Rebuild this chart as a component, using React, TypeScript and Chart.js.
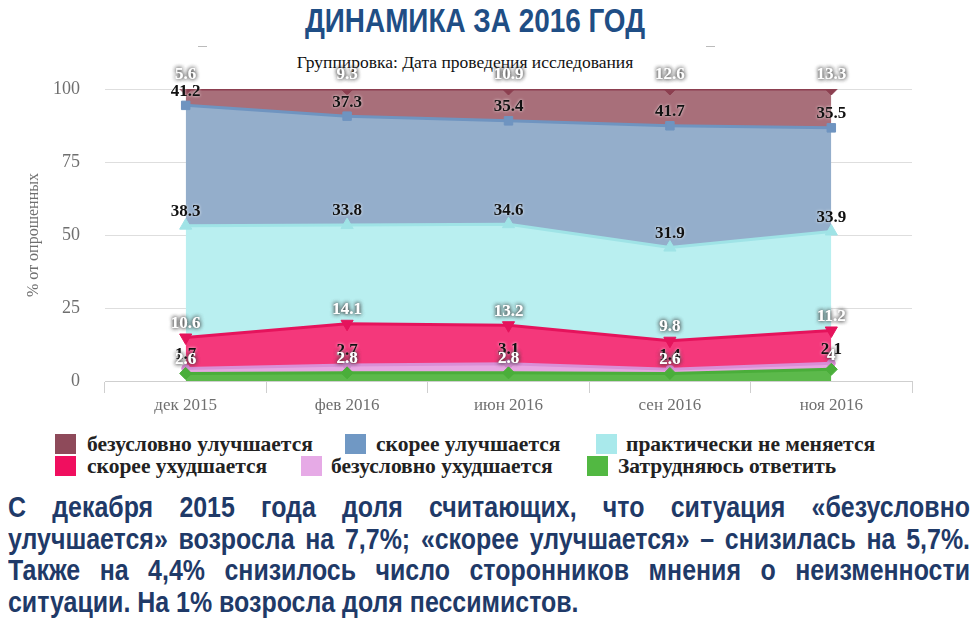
import React, { useEffect, useRef } from "react";
import { Chart, registerables } from "chart.js";

Chart.register(...registerables);

const categories = ["дек 2015", "фев 2016", "июн 2016", "сен 2016", "ноя 2016"];
const seriesNames = [
  "Затрудняюсь ответить",
  "безусловно ухудшается",
  "скорее ухудшается",
  "практически не меняется",
  "скорее улучшается",
  "безусловно улучшается",
];
const hardToSay = [2.6, 2.8, 2.8, 2.6, 4];
const definitelyWorse = [1.7, 2.7, 3.1, 1.4, 2.1];
const ratherWorse = [10.6, 14.1, 13.2, 9.8, 11.2];
const unchanged = [38.3, 33.8, 34.6, 31.9, 33.9];
const ratherBetter = [41.2, 37.3, 35.4, 41.7, 35.5];
const definitelyBetter = [5.6, 9.3, 10.9, 12.6, 13.3];
const yTickValues = [0, 25, 50, 75, 100];

const seriesValues = [hardToSay, definitelyWorse, ratherWorse, unchanged, ratherBetter, definitelyBetter];
const fillColors = ["#5cb94b", "#e7a6e2", "#f4387b", "#b9eff0", "#94aecb", "#a86f7a"];
const lineColors = ["#4aae3a", "#d98fd6", "#e5135c", "#9fe3e6", "#6f94c0", "#8c3f50"];
const legendColors = ["#52b842", "#e6aae6", "#f00f5f", "#a9e9eb", "#7098c4", "#8e4a5a"];
const markerStyles = ["rectRot", "circle", "triangle", "triangle", "rect", "rectRot"];
const markerRotation = [0, 0, 180, 0, 0, 0];
const markerRadius = [6, 4, 7, 7, 6, 6];
const whiteLabel = [true, false, true, false, false, true];

const labelPlugin = {
  id: "valueLabels",
  afterDatasetsDraw(chart: any) {
    const ctx = chart.ctx;
    ctx.save();
    ctx.font = "bold 17px 'Liberation Serif', 'DejaVu Serif', serif";
    ctx.textAlign = "center";
    ctx.textBaseline = "middle";
    for (let d = chart.data.datasets.length - 1; d >= 0; d--) {
      const meta = chart.getDatasetMeta(d);
      const vals = seriesValues[d];
      meta.data.forEach((pt: any, i: number) => {
        const x = pt.x;
        const y = pt.y - 14;
        const txt = String(vals[i]);
        if (whiteLabel[d]) {
          ctx.shadowColor = "rgba(60,60,60,0.95)";
          ctx.shadowBlur = 4;
          ctx.fillStyle = "#ffffff";
          ctx.fillText(txt, x, y);
          ctx.fillText(txt, x, y);
        } else {
          ctx.shadowColor = "rgba(255,255,255,0.9)";
          ctx.shadowBlur = 3;
          ctx.fillStyle = "#111111";
          ctx.fillText(txt, x, y);
        }
      });
    }
    ctx.restore();
  },
};

const legendRows = [
  [
    { idx: 5, sq: 55, tx: 87 },
    { idx: 4, sq: 345, tx: 376 },
    { idx: 3, sq: 596, tx: 626 },
  ],
  [
    { idx: 2, sq: 55, tx: 87 },
    { idx: 1, sq: 301, tx: 331 },
    { idx: 0, sq: 587, tx: 618 },
  ],
];

const paragraphLines = [
  "С декабря 2015 года доля считающих, что ситуация «безусловно",
  "улучшается» возросла на 7,7%; «скорее улучшается» – снизилась на 5,7%.",
  "Также на 4,4% снизилось число сторонников мнения о неизменности",
  "ситуации. На 1% возросла доля пессимистов.",
];

export default function App() {
  const ref = useRef<HTMLCanvasElement | null>(null);

  useEffect(() => {
    if (!ref.current) return;
    const chart = new Chart(ref.current, {
      type: "line",
      data: {
        labels: categories,
        datasets: seriesValues.map((vals, i) => ({
          label: seriesNames[i],
          data: vals,
          fill: i === 0 ? "origin" : "-1",
          backgroundColor: fillColors[i],
          borderColor: lineColors[i],
          borderWidth: 3,
          tension: 0,
          pointStyle: markerStyles[i] as any,
          pointRotation: markerRotation[i],
          pointRadius: markerRadius[i],
          pointBackgroundColor: lineColors[i],
          pointBorderColor: lineColors[i],
          pointBorderWidth: 1,
        })),
      },
      options: {
        animation: false,
        responsive: false,
        maintainAspectRatio: false,
        layout: { padding: { left: 0, right: 65, top: 89, bottom: 0 } },
        plugins: {
          legend: { display: false },
          tooltip: { enabled: false },
        },
        scales: {
          x: {
            type: "category",
            offset: true,
            grid: {
              offset: true,
              drawOnChartArea: false,
              drawTicks: true,
              tickLength: 12,
              color: "#cfcfcf",
            },
            border: { display: true, color: "#cfcfcf" },
            ticks: {
              color: "#6f6f6f",
              padding: 2,
              font: { family: "'Liberation Serif', serif", size: 17 },
            },
            afterFit: (s: any) => {
              s.height = 39;
            },
          },
          y: {
            stacked: true,
            min: 0,
            max: 100,
            afterBuildTicks: (s: any) => {
              s.ticks = yTickValues.map((v) => ({ value: v }));
            },
            ticks: {
              color: "#6f6f6f",
              padding: 25,
              font: { family: "'Liberation Serif', serif", size: 18 },
            },
            grid: { color: "#dedede", drawTicks: false },
            border: { display: false },
            title: {
              display: true,
              text: "% от опрошенных",
              color: "#6f6f6f",
              font: { family: "'Liberation Serif', serif", size: 16 },
              padding: { top: 24, bottom: 0 },
            },
            afterFit: (s: any) => {
              s.width = 105;
            },
          },
        },
      },
      plugins: [labelPlugin],
    });
    return () => chart.destroy();
  }, []);

  const sans = "'Liberation Sans', Arial, sans-serif";
  const pScale = 0.86;

  return (
    <div
      style={{
        position: "fixed",
        left: 0,
        top: 0,
        width: 977,
        height: 641,
        background: "#ffffff",
        overflow: "hidden",
      }}
    >
      <div
        style={{
          position: "absolute",
          left: 0,
          width: 950,
          top: 0,
          textAlign: "center",
          fontFamily: sans,
          fontWeight: "bold",
          fontSize: 34,
          lineHeight: "40px",
          color: "#1f4e85",
          transform: "scaleX(0.82)",
          transformOrigin: "475px 0",
        }}
      >
        ДИНАМИКА ЗА 2016 ГОД
      </div>
      <div style={{ position: "absolute", left: 198, top: 46, width: 9, height: 1, background: "#bbb" }} />
      <div style={{ position: "absolute", left: 706, top: 46, width: 9, height: 1, background: "#bbb" }} />
      <div
        style={{
          position: "absolute",
          left: 0,
          width: 930,
          top: 51,
          textAlign: "center",
          fontFamily: "'Liberation Serif', serif",
          fontSize: 17.5,
          lineHeight: "22px",
          color: "#111",
        }}
      >
        Группировка: Дата проведения исследования
      </div>
      <canvas
        ref={ref}
        width={977}
        height={420}
        style={{ position: "absolute", left: 0, top: 0, width: 977, height: 420 }}
      />
      {legendRows.map((row, r) =>
        row.map((it) => (
          <React.Fragment key={`${r}-${it.idx}`}>
            <div
              style={{
                position: "absolute",
                left: it.sq,
                top: 434 + r * 22,
                width: 21,
                height: 20,
                background: legendColors[it.idx],
              }}
            />
            <div
              style={{
                position: "absolute",
                left: it.tx,
                top: 431 + r * 22,
                fontFamily: "'Liberation Serif', serif",
                fontWeight: "bold",
                fontSize: 21.5,
                lineHeight: "26px",
                color: "#222",
                whiteSpace: "nowrap",
              }}
            >
              {seriesNames[it.idx]}
            </div>
          </React.Fragment>
        ))
      )}
      {paragraphLines.map((line, i) => (
        <div
          key={i}
          style={{
            position: "absolute",
            left: 8,
            width: 962 / pScale,
            top: 490 + i * 31.7,
            fontFamily: sans,
            fontWeight: "bold",
            fontSize: 29,
            lineHeight: "34px",
            color: "#1f3a68",
            textAlign: "justify",
            textAlignLast: i < paragraphLines.length - 1 ? "justify" : "left",
            whiteSpace: "nowrap",
            transform: `scaleX(${pScale})`,
            transformOrigin: "0 0",
          } as any}
        >
          {line}
        </div>
      ))}
    </div>
  );
}
